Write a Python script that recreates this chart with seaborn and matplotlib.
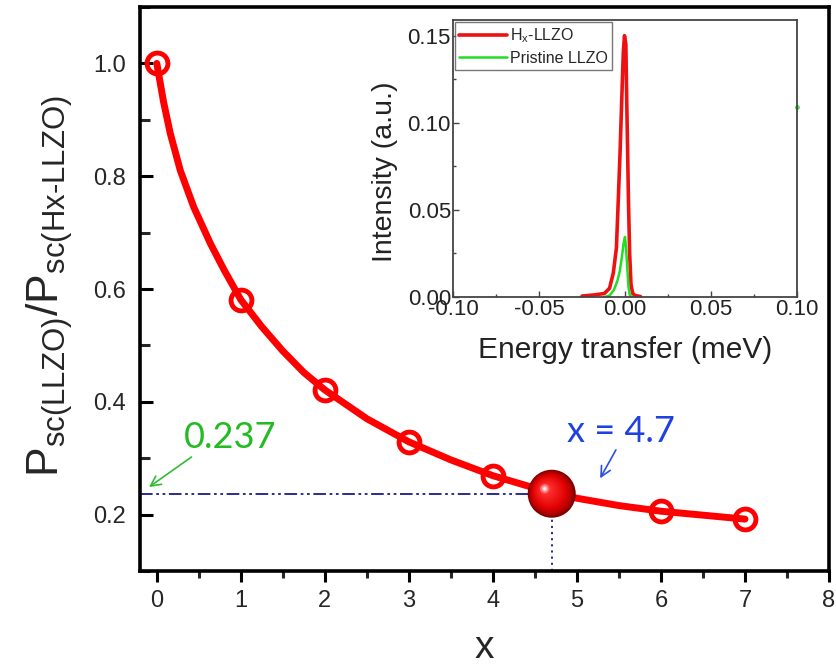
import numpy as np
import pandas as pd
import matplotlib
matplotlib.use("Agg")
import matplotlib.pyplot as plt
from matplotlib.ticker import MultipleLocator, FormatStrFormatter
from matplotlib.transforms import offset_copy
from matplotlib.colors import to_rgb
import seaborn as sns

# ---- measured ratio vs hydrogen content x ----
x_meas = [0, 1, 2, 3, 4, 6, 7]
ratio_meas = [1.0, 0.581, 0.421, 0.329, 0.269, 0.206, 0.192]

# smooth fit through the measurements
x_fit = [0, 0.08, 0.16, 0.28, 0.44, 0.64, 0.8, 1.0, 1.25, 1.5, 1.75, 2, 2.5, 3,
         3.5, 4, 4.5, 5, 5.5, 6, 6.5, 7]
ratio_fit = [1.0, 0.932, 0.876, 0.81, 0.745, 0.68, 0.634, 0.581, 0.533, 0.49, 0.452,
             0.421, 0.370, 0.329, 0.297, 0.269, 0.247, 0.229, 0.216, 0.206, 0.199, 0.192]

# crossing point
x_cross = 4.7
ratio_cross = 0.237

# ---- inset: QENS spectra ----
e_hx = [-0.025, -0.018, -0.012, -0.009, -0.0068, -0.005, -0.0039, -0.0028, -0.0019,
        -0.001, -0.0003, 0.0005, 0.001, 0.0015, 0.002, 0.0027, 0.0035, 0.0045, 0.006, 0.009]
i_hx = [0.0005, 0.0012, 0.002, 0.005, 0.0138, 0.028, 0.0557, 0.085, 0.113,
        0.14, 0.15, 0.145, 0.113, 0.085, 0.056, 0.025, 0.007, 0.002, 0.0008, 0.0003]
e_pr = [-0.012, -0.009, -0.0065, -0.0045, -0.003, -0.0018, -0.0008, 0.0, 0.0007,
        0.0014, 0.002, 0.0028, 0.004]
i_pr = [0.0, 0.0008, 0.004, 0.009, 0.015, 0.023, 0.031, 0.0345, 0.027,
        0.0155, 0.006, 0.001, 0.0]
stray_e = [0.1]
stray_i = [0.109]

sns.set_theme(style="ticks")
plt.rcParams["font.family"] = ["Liberation Sans", "DejaVu Sans"]
plt.rcParams["axes.unicode_minus"] = False
plt.rcParams["mathtext.fontset"] = "custom"
plt.rcParams["mathtext.rm"] = "Liberation Sans"
plt.rcParams["mathtext.it"] = "Liberation Sans"

RED = "#ff0000"
fig = plt.figure(figsize=(8.37, 6.66), dpi=100)
ax = fig.add_axes([140 / 837, 1 - 571 / 666, 689 / 837, 564 / 666])

df_fit = pd.DataFrame({"x": x_fit, "r": ratio_fit})
df_meas = pd.DataFrame({"x": x_meas, "r": ratio_meas})
sns.lineplot(data=df_fit, x="x", y="r", ax=ax, color=RED, lw=5, zorder=3)
sns.lineplot(data=df_meas, x="x", y="r", ax=ax, color=RED, lw=0, marker="o",
             markersize=15, markerfacecolor="none", markeredgecolor=RED,
             markeredgewidth=3.5, zorder=4)

ax.set_xlim(-0.2, 8)
ax.set_ylim(0.1, 1.1)
ax.xaxis.set_major_locator(MultipleLocator(1))
ax.xaxis.set_minor_locator(MultipleLocator(0.5))
ax.yaxis.set_minor_locator(MultipleLocator(0.1))
ax.set_yticks([0.2, 0.4, 0.6, 0.8, 1.0])
ax.set_yticklabels(["0.2", "0.4", "0.6", "0.8", "1.0"])
ax.tick_params(axis="x", which="major", direction="out", length=8, width=2.2,
               labelsize=17, pad=6, color="black")
ax.tick_params(axis="x", which="minor", direction="out", length=5, width=2.2)
ax.tick_params(axis="y", which="major", direction="in", length=9, width=2.2,
               labelsize=17, pad=10, color="black")
ax.tick_params(axis="y", which="minor", direction="in", length=7, width=2.2)
for s in ax.spines.values():
    s.set_linewidth(2.6)
    s.set_color("black")

ax.set_xlabel("x", fontsize=28)
ax.xaxis.set_label_coords(0.5, -0.105)
ax.set_ylabel(r"$\mathregular{P_{sc(LLZO)}/P_{sc(Hx\text{-}LLZO)}}$", fontsize=32)
ax.yaxis.set_label_coords(-0.095, 0.505)

# guide lines to the crossing point
ax.plot([ax.get_xlim()[0], x_cross], [ratio_cross, ratio_cross], color="#1a1a8c",
        lw=1.3, ls=(0, (7, 2, 1.5, 2, 1.5, 2)), zorder=2)
ax.plot([x_cross, x_cross], [ax.get_ylim()[0], ratio_cross], color="#1a1a8c",
        lw=1.3, ls=(0, (1.2, 2.2)), zorder=2)

# shaded ball at the crossing point
dark = np.array(to_rgb("#7a0000"))
mid = np.array(to_rgb("#e00000"))
light = np.array(to_rgb("#ff3030"))
n = 16
for i in range(n):
    f = i / (n - 1)
    d = 48 * (1 - 0.8 * f)
    if f < 0.35:
        c = dark + (mid - dark) * (f / 0.35) ** 0.7
    else:
        c = mid + (light - mid) * ((f - 0.35) / 0.65)
    tr = offset_copy(ax.transData, fig=fig, x=-6 * f, y=4.5 * f, units="dots")
    ax.scatter([x_cross], [ratio_cross], s=(d * 0.72) ** 2, color=tuple(c),
               edgecolors="none", transform=tr, zorder=6 + i * 0.01)
for sz, col in [(45, "#ff6a6a"), (18, "#ffb0b0"), (5, "#fff0f0")]:
    tr = offset_copy(ax.transData, fig=fig, x=-7, y=5, units="dots")
    ax.scatter([x_cross], [ratio_cross], s=sz, color=col, edgecolors="none",
               transform=tr, zorder=7)

# annotations
ax.text(0.32, 0.318, "0.237", color="#22bb22", fontsize=26, family=["Lato", "DejaVu Sans"])
ax.annotate("", xy=(-0.12, 0.246), xytext=(0.44, 0.305),
            arrowprops=dict(arrowstyle="->", color="#33bb33", lw=1.2,
                            mutation_scale=18))
ax.text(4.88, 0.328, "x = 4.7", color="#2040e0", fontsize=26, family=["Lato", "DejaVu Sans"])
ax.annotate("", xy=(5.26, 0.26), xytext=(5.48, 0.319),
            arrowprops=dict(arrowstyle="->", color="#2a50e0", lw=1.2,
                            mutation_scale=18))

# ---- inset ----
axi = fig.add_axes([453 / 837, 1 - 297 / 666, 344 / 837, 277 / 666])
df_hx = pd.DataFrame({"e": e_hx, "i": i_hx})
df_pr = pd.DataFrame({"e": e_pr, "i": i_pr})
sns.lineplot(data=df_hx, x="e", y="i", ax=axi, color="#ee1111", lw=2.6,
             label=r"H$_x$-LLZO", sort=False)
sns.lineplot(data=df_pr, x="e", y="i", ax=axi, color="#22dd22", lw=1.8,
             label="Pristine LLZO", sort=False)
axi.plot(stray_e, stray_i, "o", color="#55dd55", ms=2.5, clip_on=False)
axi.set_xlim(-0.1, 0.1)
axi.set_ylim(0, 0.159)
axi.xaxis.set_major_locator(MultipleLocator(0.05))
axi.xaxis.set_minor_locator(MultipleLocator(0.025))
axi.yaxis.set_major_locator(MultipleLocator(0.05))
axi.yaxis.set_minor_locator(MultipleLocator(0.025))
axi.xaxis.set_major_formatter(FormatStrFormatter("%.2f"))
axi.yaxis.set_major_formatter(FormatStrFormatter("%.2f"))
axi.tick_params(which="major", direction="in", length=4, width=1, labelsize=16,
                pad=1.5, color="#444444", labelcolor="#222222")
axi.tick_params(which="minor", direction="in", length=2.5, width=1, color="#444444")
for s in axi.spines.values():
    s.set_linewidth(1.3)
    s.set_color("#444444")
axi.set_xlabel("Energy transfer (meV)", fontsize=21.5, color="#222222")
axi.xaxis.set_label_coords(0.5, -0.14)
axi.set_ylabel("Intensity (a.u.)", fontsize=20.5, color="#222222")
axi.yaxis.set_label_coords(-0.16, 0.453)
leg = axi.legend(loc="upper left", fontsize=11.5, handlelength=3.0, frameon=True,
                 fancybox=False, borderaxespad=0.15, borderpad=0.25,
                 labelspacing=0.35, handletextpad=0.2)
leg.get_frame().set_edgecolor("#555555")
leg.get_frame().set_linewidth(1.0)

fig.savefig("out.png", dpi=100)
